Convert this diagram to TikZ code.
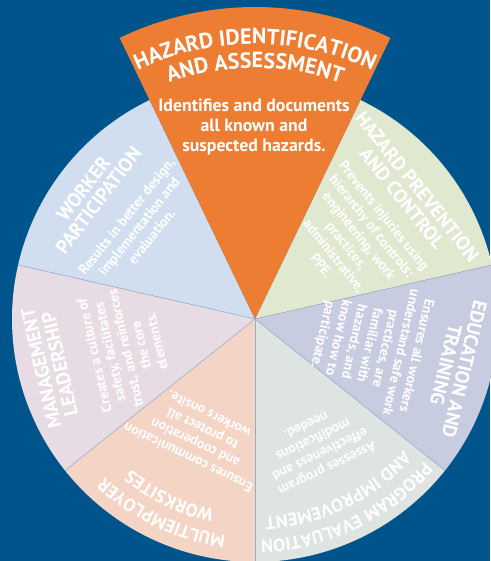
\documentclass[tikz,border=0pt]{standalone}
\usepackage{fontspec}
\setmainfont{PT Sans}
\usetikzlibrary{decorations.text}

\definecolor{bgblue}{RGB}{0,84,140}
\definecolor{hazorange}{RGB}{237,125,50}
\definecolor{workerblue}{RGB}{208,222,240}
\definecolor{preventgreen}{RGB}{224,232,208}
\definecolor{traininglilac}{RGB}{200,204,224}
\definecolor{evalgrey}{RGB}{222,228,226}
\definecolor{multipeach}{RGB}{244,212,196}
\definecolor{leadmauve}{RGB}{232,220,228}
\definecolor{edgeline}{RGB}{150,172,196}

\newcommand{\wheeltitle}{\bfseries\fontsize{19.5}{19}\selectfont}
\newcommand{\arctitle}{\bfseries\fontsize{18}{18}\selectfont}
\newcommand{\hazidtitle}{\bfseries\fontsize{22}{22}\selectfont}

\begin{document}
\begin{tikzpicture}[x=1pt, y=1pt,
    title/.style={text=white, font=\wheeltitle, align=center, inner sep=0pt},
    body/.style={text=white, font=\bfseries\fontsize{14}{16}\selectfont, align=center, inner sep=0pt},
    arctext/.style={decorate, decoration={text along path, text align=center,
      text color=white, text={#1}}}
    ]
  \fill[bgblue] (-255,-242) rectangle (235,319);
  \useasboundingbox (-255,-242) rectangle (235,319);
  \coordinate (c) at (0,0);

  \foreach \a/\col in {12.857/preventgreen, -38.571/traininglilac, -90/evalgrey,
      -141.429/multipeach, 167.143/leadmauve, 115.714/workerblue}
    \fill[\col] (c) -- (\a:243) arc[start angle=\a, end angle=\a+51.429, radius=243] -- cycle;
  \foreach \a in {12.857, -38.571, -90, -141.429, 167.143}
    \draw[edgeline, line width=0.5pt] (c) -- (\a:243);
  \fill[hazorange] (c) -- (64.286:312) arc[start angle=64.286, end angle=115.714, radius=312] -- cycle;

  % curved headings
  \path[arctext={|\hazidtitle|HAZARD IDENTIFICATION}] (130:275) arc[start angle=130, end angle=50, radius=275];
  \path[arctext={|\hazidtitle|AND ASSESSMENT}] (130:251) arc[start angle=130, end angle=50, radius=251];
  \path[arctext={|\arctitle|PROGRAM EVALUATION}] (-29.3:221) arc[start angle=-29.3, end angle=-99.3, radius=221];
  \path[arctext={|\arctitle|AND IMPROVEMENT}] (-29.3:198) arc[start angle=-29.3, end angle=-99.3, radius=198];
  \path[arctext={|\arctitle|MULTIEMPLOYER}] (-80.7:218) arc[start angle=-80.7, end angle=-150.7, radius=218];
  \path[arctext={|\arctitle|WORKSITES}] (-80.7:195) arc[start angle=-80.7, end angle=-150.7, radius=195];

  % straight headings
  \node[title, rotate=-51.43] (prevtitle) at (39.3:200) {HAZARD PREVENTION\\AND CONTROL};
  \node[title, rotate=-103.5] (traintitle) at (-13.5:206) {EDUCATION AND\\TRAINING};
  \node[title, rotate=103] (leadtitle) at (193:210) {MANAGEMENT\\LEADERSHIP};
  \node[title, rotate=52.8] (workertitle) at (142.8:206) {WORKER\\PARTICIPATION};

  % descriptions
  \node[body, font=\bfseries\fontsize{17.8}{20}\selectfont] (hazidtext) at (-1,192)
    {Identifies and documents\\all known and\\suspected hazards.};
  \node[body, rotate=-51.43] (prevtext) at (38.57:125.5)
    {Prevents injuries using\\hierarchy of controls:\\engineering, work\\practices,\\administrative,\\PPE.};
  \node[body, rotate=-102.86] (traintext) at (-12.86:117)
    {Ensures all workers\\understand safe work\\practices, are\\familiar with\\hazards, and\\know how to\\participate.};
  \node[body, rotate=-154.29] (evaltext) at (-64.29:142.5)
    {Assesses program\\effectiveness and\\modifications\\needed.};
  \node[body, rotate=154.29] (multitext) at (-115.71:130)
    {Ensures communication\\and cooperation\\to protect all\\workers onsite.};
  \node[body, rotate=102.86] (leadtext) at (192.86:133)
    {Creates a culture of\\safety, facilitates\\trust, and reinforces\\the core\\elements.};
  \node[body, rotate=51.43] (workertext) at (141.43:148.5)
    {Results in better design,\\implementation and\\evaluation.};
\end{tikzpicture}
\end{document}
